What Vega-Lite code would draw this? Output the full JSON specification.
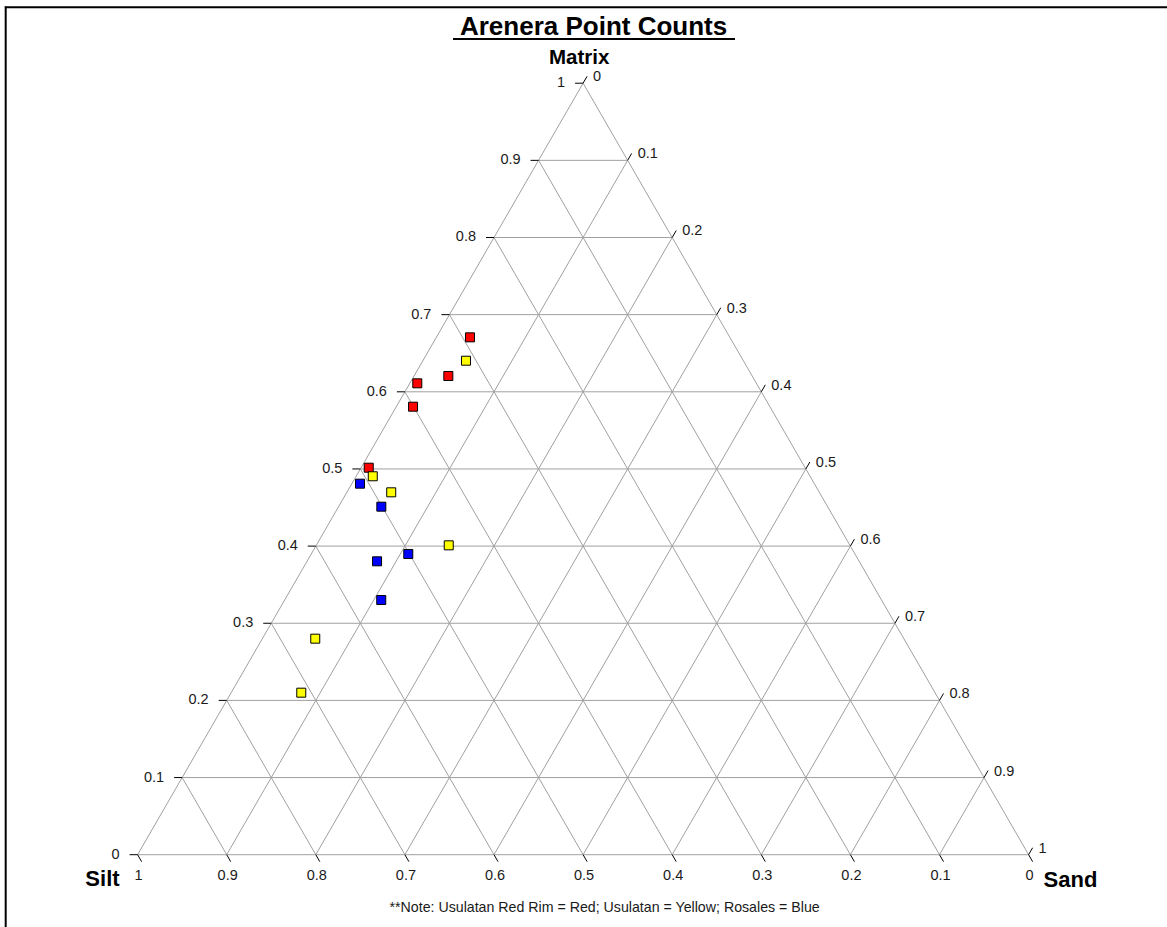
{
  "$schema": "https://vega.github.io/schema/vega-lite/v6.json",
  "width": 1167,
  "height": 927,
  "autosize": "none",
  "padding": 0,
  "background": "white",
  "config": {"view": {"stroke": null}, "text": {"font": "Liberation Sans", "color": "#000000"}},
  "datasets": {
    "grid": [
      {"x": 0.05, "y": 0.1, "x2": 0.95, "y2": 0.1},
      {"x": 0.1, "y": 0.2, "x2": 0.9, "y2": 0.2},
      {"x": 0.15, "y": 0.3, "x2": 0.85, "y2": 0.3},
      {"x": 0.2, "y": 0.4, "x2": 0.8, "y2": 0.4},
      {"x": 0.25, "y": 0.5, "x2": 0.75, "y2": 0.5},
      {"x": 0.3, "y": 0.6, "x2": 0.7, "y2": 0.6},
      {"x": 0.35, "y": 0.7, "x2": 0.65, "y2": 0.7},
      {"x": 0.4, "y": 0.8, "x2": 0.6, "y2": 0.8},
      {"x": 0.45, "y": 0.9, "x2": 0.55, "y2": 0.9},
      {"x": 0.1, "y": 0, "x2": 0.55, "y2": 0.9},
      {"x": 0.2, "y": 0, "x2": 0.6, "y2": 0.8},
      {"x": 0.3, "y": 0, "x2": 0.65, "y2": 0.7},
      {"x": 0.4, "y": 0, "x2": 0.7, "y2": 0.6},
      {"x": 0.5, "y": 0, "x2": 0.75, "y2": 0.5},
      {"x": 0.6, "y": 0, "x2": 0.8, "y2": 0.4},
      {"x": 0.7, "y": 0, "x2": 0.85, "y2": 0.3},
      {"x": 0.8, "y": 0, "x2": 0.9, "y2": 0.2},
      {"x": 0.9, "y": 0, "x2": 0.95, "y2": 0.1},
      {"x": 0.1, "y": 0, "x2": 0.05, "y2": 0.1},
      {"x": 0.2, "y": 0, "x2": 0.1, "y2": 0.2},
      {"x": 0.3, "y": 0, "x2": 0.15, "y2": 0.3},
      {"x": 0.4, "y": 0, "x2": 0.2, "y2": 0.4},
      {"x": 0.5, "y": 0, "x2": 0.25, "y2": 0.5},
      {"x": 0.6, "y": 0, "x2": 0.3, "y2": 0.6},
      {"x": 0.7, "y": 0, "x2": 0.35, "y2": 0.7},
      {"x": 0.8, "y": 0, "x2": 0.4, "y2": 0.8},
      {"x": 0.9, "y": 0, "x2": 0.45, "y2": 0.9},
      {"x": 0, "y": 0, "x2": 1, "y2": 0},
      {"x": 0, "y": 0, "x2": 0.5, "y2": 1},
      {"x": 1, "y": 0, "x2": 0.5, "y2": 1}
    ],
    "leftTicks": [
      {"x": 0, "x2": -0.009, "y": 0, "y2": 0, "label": "0"},
      {"x": 0.05, "x2": 0.041, "y": 0.1, "y2": 0.1, "label": "0.1"},
      {"x": 0.1, "x2": 0.091, "y": 0.2, "y2": 0.2, "label": "0.2"},
      {"x": 0.15, "x2": 0.141, "y": 0.3, "y2": 0.3, "label": "0.3"},
      {"x": 0.2, "x2": 0.191, "y": 0.4, "y2": 0.4, "label": "0.4"},
      {"x": 0.25, "x2": 0.241, "y": 0.5, "y2": 0.5, "label": "0.5"},
      {"x": 0.3, "x2": 0.291, "y": 0.6, "y2": 0.6, "label": "0.6"},
      {"x": 0.35, "x2": 0.341, "y": 0.7, "y2": 0.7, "label": "0.7"},
      {"x": 0.4, "x2": 0.391, "y": 0.8, "y2": 0.8, "label": "0.8"},
      {"x": 0.45, "x2": 0.441, "y": 0.9, "y2": 0.9, "label": "0.9"},
      {"x": 0.5, "x2": 0.491, "y": 1, "y2": 1, "label": "1"}
    ],
    "rightTicks": [
      {"x": 1, "x2": 1.0045, "y": 0, "y2": 0.009, "label": "1"},
      {"x": 0.95, "x2": 0.9545, "y": 0.1, "y2": 0.109, "label": "0.9"},
      {"x": 0.9, "x2": 0.9045, "y": 0.2, "y2": 0.209, "label": "0.8"},
      {"x": 0.85, "x2": 0.8545, "y": 0.3, "y2": 0.309, "label": "0.7"},
      {"x": 0.8, "x2": 0.8045, "y": 0.4, "y2": 0.409, "label": "0.6"},
      {"x": 0.75, "x2": 0.7545, "y": 0.5, "y2": 0.509, "label": "0.5"},
      {"x": 0.7, "x2": 0.7045, "y": 0.6, "y2": 0.609, "label": "0.4"},
      {"x": 0.65, "x2": 0.6545, "y": 0.7, "y2": 0.709, "label": "0.3"},
      {"x": 0.6, "x2": 0.6045, "y": 0.8, "y2": 0.809, "label": "0.2"},
      {"x": 0.55, "x2": 0.5545, "y": 0.9, "y2": 0.909, "label": "0.1"},
      {"x": 0.5, "x2": 0.5045, "y": 1, "y2": 1.009, "label": "0"}
    ],
    "bottomTicks": [
      {"x": 0, "x2": 0.0045, "y": 0, "y2": -0.009, "label": "1"},
      {"x": 0.1, "x2": 0.1045, "y": 0, "y2": -0.009, "label": "0.9"},
      {"x": 0.2, "x2": 0.2045, "y": 0, "y2": -0.009, "label": "0.8"},
      {"x": 0.3, "x2": 0.3045, "y": 0, "y2": -0.009, "label": "0.7"},
      {"x": 0.4, "x2": 0.4045, "y": 0, "y2": -0.009, "label": "0.6"},
      {"x": 0.5, "x2": 0.5045, "y": 0, "y2": -0.009, "label": "0.5"},
      {"x": 0.6, "x2": 0.6045, "y": 0, "y2": -0.009, "label": "0.4"},
      {"x": 0.7, "x2": 0.7045, "y": 0, "y2": -0.009, "label": "0.3"},
      {"x": 0.8, "x2": 0.8045, "y": 0, "y2": -0.009, "label": "0.2"},
      {"x": 0.9, "x2": 0.9045, "y": 0, "y2": -0.009, "label": "0.1"},
      {"x": 1, "x2": 1.0045, "y": 0, "y2": -0.009, "label": "0"}
    ],
    "samples": [
      {"group": "Usulatan Red Rim", "matrix": 0.6706, "sand": 0.0378, "silt": 0.2916},
      {"group": "Usulatan Red Rim", "matrix": 0.6205, "sand": 0.0385, "silt": 0.3410},
      {"group": "Usulatan Red Rim", "matrix": 0.6110, "sand": 0.0084, "silt": 0.3806},
      {"group": "Usulatan Red Rim", "matrix": 0.5807, "sand": 0.0188, "silt": 0.4005},
      {"group": "Usulatan Red Rim", "matrix": 0.5016, "sand": 0.0086, "silt": 0.4898},
      {"group": "Usulatan", "matrix": 0.6403, "sand": 0.0484, "silt": 0.3113},
      {"group": "Usulatan", "matrix": 0.4905, "sand": 0.0187, "silt": 0.4908},
      {"group": "Usulatan", "matrix": 0.4697, "sand": 0.0498, "silt": 0.4805},
      {"group": "Usulatan", "matrix": 0.4010, "sand": 0.1487, "silt": 0.4503},
      {"group": "Usulatan", "matrix": 0.2800, "sand": 0.0594, "silt": 0.6606},
      {"group": "Usulatan", "matrix": 0.2100, "sand": 0.0787, "silt": 0.7113},
      {"group": "Rosales", "matrix": 0.4809, "sand": 0.0092, "silt": 0.5099},
      {"group": "Rosales", "matrix": 0.4511, "sand": 0.0480, "silt": 0.5009},
      {"group": "Rosales", "matrix": 0.3898, "sand": 0.1089, "silt": 0.5013},
      {"group": "Rosales", "matrix": 0.3803, "sand": 0.0786, "silt": 0.5411},
      {"group": "Rosales", "matrix": 0.3301, "sand": 0.1084, "silt": 0.5615}
    ]
  },
  "layer": [
    {
      "data": {"name": "grid"},
      "mark": {"type": "rule", "color": "#a0a0a0", "strokeWidth": 1},
      "encoding": {
        "x": {"field": "x", "type": "quantitative", "scale": {"domain": [-0.15443, 1.15533], "nice": false, "zero": false}, "axis": null},
        "y": {"field": "y", "type": "quantitative", "scale": {"domain": [-0.09371, 1.10784], "nice": false, "zero": false}, "axis": null},
        "x2": {"field": "x2"}, "y2": {"field": "y2"}
      }
    },
    {
      "data": {"name": "leftTicks"},
      "mark": {"type": "rule", "color": "#000000", "strokeWidth": 1},
      "encoding": {
        "x": {"field": "x", "type": "quantitative", "scale": {"domain": [-0.15443, 1.15533], "nice": false, "zero": false}, "axis": null},
        "y": {"field": "y", "type": "quantitative", "scale": {"domain": [-0.09371, 1.10784], "nice": false, "zero": false}, "axis": null},
        "x2": {"field": "x2"}, "y2": {"field": "y2"}
      }
    },
    {
      "data": {"name": "rightTicks"},
      "mark": {"type": "rule", "color": "#000000", "strokeWidth": 1},
      "encoding": {
        "x": {"field": "x", "type": "quantitative", "scale": {"domain": [-0.15443, 1.15533], "nice": false, "zero": false}, "axis": null},
        "y": {"field": "y", "type": "quantitative", "scale": {"domain": [-0.09371, 1.10784], "nice": false, "zero": false}, "axis": null},
        "x2": {"field": "x2"}, "y2": {"field": "y2"}
      }
    },
    {
      "data": {"name": "bottomTicks"},
      "mark": {"type": "rule", "color": "#000000", "strokeWidth": 1},
      "encoding": {
        "x": {"field": "x", "type": "quantitative", "scale": {"domain": [-0.15443, 1.15533], "nice": false, "zero": false}, "axis": null},
        "y": {"field": "y", "type": "quantitative", "scale": {"domain": [-0.09371, 1.10784], "nice": false, "zero": false}, "axis": null},
        "x2": {"field": "x2"}, "y2": {"field": "y2"}
      }
    },
    {
      "data": {"name": "leftTicks"},
      "mark": {"type": "text", "align": "right", "baseline": "middle", "dx": -18, "fontSize": 14.5, "color": "#1a1a1a"},
      "encoding": {
        "x": {"field": "x", "type": "quantitative", "scale": {"domain": [-0.15443, 1.15533], "nice": false, "zero": false}, "axis": null},
        "y": {"field": "y", "type": "quantitative", "scale": {"domain": [-0.09371, 1.10784], "nice": false, "zero": false}, "axis": null},
        "text": {"field": "label"}
      }
    },
    {
      "data": {"name": "rightTicks"},
      "mark": {"type": "text", "align": "left", "baseline": "middle", "dx": 10, "dy": -6, "fontSize": 14.5, "color": "#1a1a1a"},
      "encoding": {
        "x": {"field": "x", "type": "quantitative", "scale": {"domain": [-0.15443, 1.15533], "nice": false, "zero": false}, "axis": null},
        "y": {"field": "y", "type": "quantitative", "scale": {"domain": [-0.09371, 1.10784], "nice": false, "zero": false}, "axis": null},
        "text": {"field": "label"}
      }
    },
    {
      "data": {"name": "bottomTicks"},
      "mark": {"type": "text", "align": "center", "baseline": "middle", "dx": 1, "dy": 21, "fontSize": 14.5, "color": "#1a1a1a"},
      "encoding": {
        "x": {"field": "x", "type": "quantitative", "scale": {"domain": [-0.15443, 1.15533], "nice": false, "zero": false}, "axis": null},
        "y": {"field": "y", "type": "quantitative", "scale": {"domain": [-0.09371, 1.10784], "nice": false, "zero": false}, "axis": null},
        "text": {"field": "label"}
      }
    },
    {
      "data": {"name": "samples"},
      "transform": [
        {"calculate": "datum.sand + datum.matrix / 2", "as": "x"},
        {"calculate": "datum.matrix", "as": "y"}
      ],
      "mark": {"type": "point", "shape": "square", "filled": true, "size": 81, "stroke": "#000000", "strokeWidth": 1, "opacity": 1},
      "encoding": {
        "x": {"field": "x", "type": "quantitative", "scale": {"domain": [-0.15443, 1.15533], "nice": false, "zero": false}, "axis": null},
        "y": {"field": "y", "type": "quantitative", "scale": {"domain": [-0.09371, 1.10784], "nice": false, "zero": false}, "axis": null},
        "fill": {"field": "group", "type": "nominal", "scale": {"domain": ["Usulatan Red Rim", "Usulatan", "Rosales"], "range": ["#ff0000", "#ffff00", "#0000ff"]}, "legend": null}
      }
    },
    {
      "data": {"values": [{}]},
      "mark": {"type": "text", "text": "Arenera Point Counts", "fontSize": 26, "fontWeight": "bold", "align": "center", "baseline": "alphabetic", "dx": 10.5, "dy": -48},
      "encoding": {
        "x": {"datum": 0.5, "type": "quantitative", "scale": {"domain": [-0.15443, 1.15533], "nice": false, "zero": false}, "axis": null},
        "y": {"datum": 1, "type": "quantitative", "scale": {"domain": [-0.09371, 1.10784], "nice": false, "zero": false}, "axis": null}
      }
    },
    {
      "data": {"values": [{}]},
      "mark": {"type": "rule", "color": "#000000", "strokeWidth": 2},
      "encoding": {
        "x": {"datum": 0.354, "type": "quantitative", "scale": {"domain": [-0.15443, 1.15533], "nice": false, "zero": false}, "axis": null},
        "x2": {"datum": 0.6705},
        "y": {"datum": 1.0573, "type": "quantitative", "scale": {"domain": [-0.09371, 1.10784], "nice": false, "zero": false}, "axis": null}
      }
    },
    {
      "data": {"values": [{}]},
      "mark": {"type": "text", "text": "Matrix", "fontSize": 20.5, "fontWeight": "bold", "align": "center", "baseline": "alphabetic", "dx": -4, "dy": -19},
      "encoding": {
        "x": {"datum": 0.5, "type": "quantitative", "scale": {"domain": [-0.15443, 1.15533], "nice": false, "zero": false}, "axis": null},
        "y": {"datum": 1, "type": "quantitative", "scale": {"domain": [-0.09371, 1.10784], "nice": false, "zero": false}, "axis": null}
      }
    },
    {
      "data": {"values": [{}]},
      "mark": {"type": "text", "text": "Silt", "fontSize": 22, "fontWeight": "bold", "align": "right", "baseline": "alphabetic", "dx": -18, "dy": 31},
      "encoding": {
        "x": {"datum": 0, "type": "quantitative", "scale": {"domain": [-0.15443, 1.15533], "nice": false, "zero": false}, "axis": null},
        "y": {"datum": 0, "type": "quantitative", "scale": {"domain": [-0.09371, 1.10784], "nice": false, "zero": false}, "axis": null}
      }
    },
    {
      "data": {"values": [{}]},
      "mark": {"type": "text", "text": "Sand", "fontSize": 22, "fontWeight": "bold", "align": "left", "baseline": "alphabetic", "dx": 15, "dy": 32},
      "encoding": {
        "x": {"datum": 1, "type": "quantitative", "scale": {"domain": [-0.15443, 1.15533], "nice": false, "zero": false}, "axis": null},
        "y": {"datum": 0, "type": "quantitative", "scale": {"domain": [-0.09371, 1.10784], "nice": false, "zero": false}, "axis": null}
      }
    },
    {
      "data": {"values": [{}]},
      "mark": {"type": "text", "text": "**Note: Usulatan Red Rim = Red; Usulatan = Yellow; Rosales = Blue", "fontSize": 14.2, "align": "center", "baseline": "middle", "dx": 21.5, "dy": 53, "color": "#1a1a1a"},
      "encoding": {
        "x": {"datum": 0.5, "type": "quantitative", "scale": {"domain": [-0.15443, 1.15533], "nice": false, "zero": false}, "axis": null},
        "y": {"datum": 0, "type": "quantitative", "scale": {"domain": [-0.09371, 1.10784], "nice": false, "zero": false}, "axis": null}
      }
    },
    {
      "data": {"values": [{}]},
      "mark": {"type": "rule", "color": "#000000", "strokeWidth": 2},
      "encoding": {
        "x": {"datum": -0.149, "type": "quantitative", "scale": {"domain": [-0.15443, 1.15533], "nice": false, "zero": false}, "axis": null},
        "x2": {"datum": 1.2},
        "y": {"datum": 1.0984, "type": "quantitative", "scale": {"domain": [-0.09371, 1.10784], "nice": false, "zero": false}, "axis": null}
      }
    },
    {
      "data": {"values": [{}]},
      "mark": {"type": "rule", "color": "#000000", "strokeWidth": 2},
      "encoding": {
        "x": {"datum": -0.14804, "type": "quantitative", "scale": {"domain": [-0.15443, 1.15533], "nice": false, "zero": false}, "axis": null},
        "y": {"datum": -0.2, "type": "quantitative", "scale": {"domain": [-0.09371, 1.10784], "nice": false, "zero": false}, "axis": null},
        "y2": {"datum": 1.0995}
      }
    }
  ]
}
